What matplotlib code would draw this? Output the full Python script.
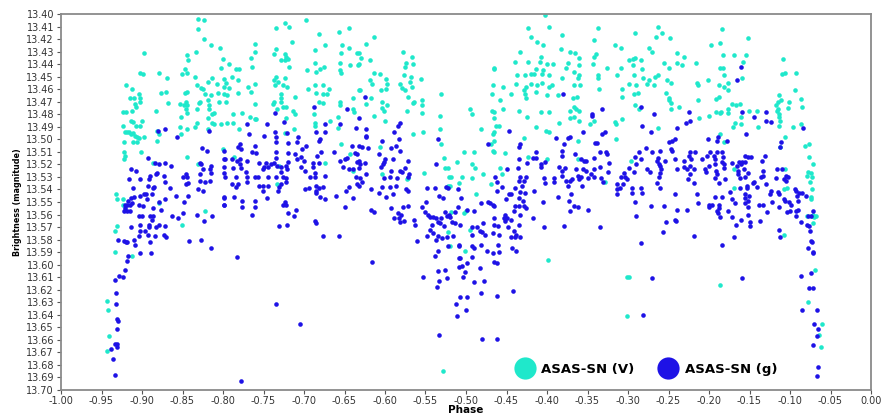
import numpy as np
import matplotlib
matplotlib.use("Agg")
import matplotlib.pyplot as plt
from matplotlib.lines import Line2D

plt.rcParams["axes.unicode_minus"] = False
plt.rcParams["font.family"] = "DejaVu Sans"

# ---- data (phase, magnitude) ----
v_points = [
    # -0.95 .. -0.80
    (-0.831,13.404),(-0.823,13.405),(-0.831,13.412),(-0.824,13.420),(-0.815,13.425),(-0.804,13.427),
    (-0.833,13.430),(-0.897,13.431),(-0.844,13.433),(-0.800,13.436),(-0.843,13.437),(-0.803,13.443),
    (-0.847,13.444),(-0.902,13.447),(-0.899,13.448),(-0.879,13.447),(-0.851,13.448),(-0.845,13.447),
    (-0.869,13.451),(-0.834,13.450),(-0.813,13.451),(-0.819,13.454),(-0.920,13.457),(-0.912,13.460),
    (-0.832,13.457),(-0.827,13.459),(-0.807,13.456),(-0.799,13.458),(-0.825,13.460),(-0.870,13.462),
    (-0.876,13.463),(-0.845,13.462),(-0.847,13.463),(-0.904,13.464),(-0.822,13.464),(-0.806,13.463),
    (-0.915,13.467),(-0.910,13.467),(-0.902,13.467),(-0.815,13.465),(-0.902,13.470),(-0.868,13.471),
    (-0.853,13.472),(-0.846,13.470),(-0.830,13.471),(-0.828,13.470),(-0.819,13.469),(-0.805,13.470),
    (-0.909,13.472),(-0.908,13.474),(-0.848,13.473),(-0.844,13.473),(-0.817,13.473),(-0.832,13.476),
    (-0.817,13.476),(-0.846,13.476),(-0.883,13.477),(-0.923,13.478),(-0.920,13.478),(-0.912,13.477),
    (-0.844,13.479),(-0.814,13.480),(-0.811,13.479),(-0.852,13.482),(-0.818,13.483),(-0.900,13.485),
    (-0.914,13.485),(-0.911,13.486),(-0.832,13.487),(-0.813,13.487),(-0.811,13.488),(-0.803,13.488),
    (-0.923,13.489),(-0.908,13.489),(-0.903,13.489),(-0.853,13.490),(-0.834,13.490),(-0.845,13.492),
    (-0.819,13.492),(-0.881,13.493),(-0.921,13.494),(-0.919,13.494),(-0.916,13.494),(-0.913,13.496),
    (-0.911,13.495),(-0.909,13.497),(-0.906,13.498),(-0.904,13.499),(-0.897,13.498),(-0.879,13.496),
    (-0.852,13.496),(-0.922,13.502),(-0.911,13.502),(-0.906,13.502),(-0.881,13.501),(-0.922,13.510),
    (-0.901,13.510),(-0.921,13.513),(-0.922,13.516),(-0.844,13.514),(-0.800,13.508),(-0.886,13.519),
    (-0.831,13.520),(-0.932,13.544),(-0.931,13.548),(-0.923,13.548),(-0.923,13.552),(-0.879,13.551),
    (-0.822,13.557),(-0.851,13.568),(-0.931,13.569),(-0.933,13.573),(-0.933,13.590),(-0.912,13.593),
    (-0.943,13.629),(-0.942,13.636),(-0.941,13.657),(-0.943,13.669),
    # -0.80 .. -0.63
    (-0.697,13.405),(-0.724,13.407),(-0.719,13.410),(-0.735,13.411),(-0.644,13.411),(-0.657,13.414),
    (-0.682,13.416),(-0.715,13.422),(-0.761,13.424),(-0.674,13.425),(-0.653,13.425),(-0.645,13.427),
    (-0.734,13.428),(-0.687,13.429),(-0.761,13.430),(-0.654,13.431),(-0.737,13.432),(-0.724,13.432),
    (-0.722,13.434),(-0.634,13.431),(-0.766,13.435),(-0.728,13.437),(-0.724,13.437),(-0.720,13.436),
    (-0.686,13.439),(-0.655,13.439),(-0.793,13.440),(-0.764,13.442),(-0.718,13.442),(-0.675,13.442),
    (-0.643,13.441),(-0.633,13.441),(-0.784,13.444),(-0.780,13.444),(-0.696,13.445),(-0.680,13.444),
    (-0.685,13.446),(-0.656,13.445),(-0.654,13.447),(-0.789,13.450),(-0.735,13.450),(-0.724,13.451),
    (-0.799,13.452),(-0.781,13.453),(-0.737,13.453),(-0.732,13.454),(-0.796,13.455),(-0.761,13.456),
    (-0.736,13.457),(-0.726,13.457),(-0.721,13.458),(-0.769,13.458),(-0.766,13.462),(-0.792,13.459),
    (-0.687,13.457),(-0.676,13.457),(-0.695,13.460),(-0.669,13.460),(-0.632,13.461),(-0.782,13.463),
    (-0.685,13.463),(-0.677,13.464),(-0.671,13.464),(-0.799,13.464),(-0.795,13.465),(-0.728,13.464),
    (-0.711,13.466),(-0.729,13.467),(-0.737,13.470),(-0.729,13.470),(-0.640,13.467),(-0.796,13.470),
    (-0.681,13.470),(-0.676,13.471),(-0.656,13.470),(-0.760,13.472),(-0.738,13.472),(-0.655,13.473),
    (-0.726,13.474),(-0.722,13.474),(-0.733,13.476),(-0.713,13.477),(-0.639,13.476),(-0.777,13.479),
    (-0.711,13.480),(-0.688,13.480),(-0.788,13.480),(-0.638,13.478),(-0.658,13.482),(-0.767,13.482),
    (-0.722,13.483),(-0.761,13.484),(-0.759,13.484),(-0.668,13.485),(-0.795,13.487),(-0.788,13.487),
    (-0.686,13.487),(-0.686,13.489),(-0.780,13.492),(-0.712,13.492),(-0.658,13.491),(-0.724,13.495),
    (-0.654,13.504),(-0.643,13.512),(-0.786,13.514),(-0.674,13.519),(-0.639,13.525),(-0.731,13.521),
    (-0.733,13.536),
    # -0.63 .. -0.47
    (-0.614,13.418),(-0.624,13.424),(-0.632,13.431),(-0.630,13.435),(-0.578,13.430),(-0.567,13.434),
    (-0.619,13.437),(-0.574,13.439),(-0.566,13.440),(-0.575,13.442),(-0.632,13.440),(-0.466,13.444),
    (-0.614,13.447),(-0.606,13.448),(-0.576,13.449),(-0.568,13.450),(-0.555,13.452),(-0.619,13.453),
    (-0.599,13.452),(-0.616,13.456),(-0.597,13.456),(-0.581,13.456),(-0.569,13.454),(-0.579,13.459),
    (-0.567,13.458),(-0.605,13.461),(-0.599,13.460),(-0.575,13.461),(-0.467,13.457),(-0.631,13.461),
    (-0.531,13.464),(-0.468,13.464),(-0.572,13.466),(-0.617,13.467),(-0.566,13.471),(-0.564,13.470),
    (-0.554,13.469),(-0.604,13.470),(-0.624,13.472),(-0.598,13.473),(-0.554,13.473),(-0.604,13.475),
    (-0.601,13.477),(-0.573,13.477),(-0.495,13.476),(-0.468,13.477),(-0.554,13.479),(-0.614,13.481),
    (-0.532,13.481),(-0.493,13.480),(-0.600,13.485),(-0.466,13.483),(-0.532,13.492),(-0.481,13.492),
    (-0.566,13.496),(-0.553,13.494),(-0.467,13.496),(-0.531,13.504),(-0.469,13.504),(-0.503,13.510),
    (-0.490,13.510),(-0.467,13.509),(-0.527,13.515),(-0.511,13.518),(-0.606,13.506),(-0.492,13.520),
    (-0.489,13.523),(-0.526,13.523),(-0.522,13.523),(-0.604,13.528),(-0.552,13.527),(-0.479,13.528),
    (-0.492,13.531),(-0.521,13.530),(-0.519,13.530),(-0.505,13.530),(-0.571,13.531),(-0.573,13.532),
    (-0.509,13.535),(-0.469,13.536),(-0.522,13.537),(-0.520,13.537),(-0.488,13.544),(-0.500,13.557),
    (-0.502,13.559),(-0.518,13.558),(-0.495,13.572),(-0.522,13.574),(-0.520,13.585),(-0.501,13.589),
    (-0.529,13.685),
    # -0.47 .. -0.30
    (-0.402,13.401),(-0.398,13.410),(-0.424,13.411),(-0.337,13.411),(-0.381,13.417),(-0.420,13.418),
    (-0.342,13.421),(-0.412,13.422),(-0.405,13.425),(-0.316,13.425),(-0.309,13.427),(-0.383,13.428),
    (-0.372,13.430),(-0.365,13.431),(-0.433,13.430),(-0.339,13.432),(-0.342,13.434),(-0.408,13.434),
    (-0.361,13.435),(-0.424,13.438),(-0.439,13.438),(-0.409,13.438),(-0.400,13.440),(-0.393,13.440),
    (-0.374,13.439),(-0.343,13.440),(-0.361,13.441),(-0.326,13.443),(-0.377,13.443),(-0.309,13.443),
    (-0.299,13.437),(-0.414,13.444),(-0.405,13.445),(-0.367,13.446),(-0.466,13.443),(-0.437,13.449),
    (-0.427,13.449),(-0.420,13.448),(-0.416,13.448),(-0.406,13.448),(-0.397,13.449),(-0.381,13.451),
    (-0.360,13.449),(-0.337,13.449),(-0.314,13.449),(-0.337,13.451),(-0.362,13.451),(-0.438,13.456),
    (-0.420,13.456),(-0.406,13.455),(-0.367,13.457),(-0.454,13.458),(-0.426,13.458),(-0.412,13.457),
    (-0.398,13.458),(-0.394,13.457),(-0.359,13.457),(-0.308,13.460),(-0.336,13.460),(-0.429,13.461),
    (-0.413,13.462),(-0.427,13.464),(-0.386,13.465),(-0.445,13.464),(-0.458,13.469),(-0.426,13.467),
    (-0.400,13.465),(-0.368,13.467),(-0.363,13.466),(-0.307,13.466),(-0.367,13.474),(-0.364,13.476),
    (-0.466,13.478),(-0.454,13.476),(-0.435,13.477),(-0.407,13.478),(-0.397,13.478),(-0.371,13.477),
    (-0.360,13.477),(-0.425,13.482),(-0.371,13.483),(-0.367,13.482),(-0.360,13.485),(-0.308,13.484),
    (-0.342,13.485),(-0.414,13.490),(-0.459,13.489),(-0.463,13.489),(-0.385,13.487),(-0.347,13.488),
    (-0.316,13.486),(-0.315,13.488),(-0.401,13.493),(-0.398,13.494),(-0.466,13.494),(-0.428,13.499),
    (-0.362,13.501),(-0.315,13.500),(-0.466,13.501),(-0.466,13.510),(-0.452,13.511),(-0.424,13.514),
    (-0.400,13.516),(-0.362,13.516),(-0.458,13.523),(-0.456,13.528),(-0.328,13.534),(-0.399,13.596),
    (-0.301,13.610),(-0.301,13.641),
    # -0.30 .. -0.13
    (-0.263,13.410),(-0.184,13.412),(-0.258,13.415),(-0.291,13.415),(-0.265,13.418),(-0.248,13.419),
    (-0.152,13.419),(-0.187,13.423),(-0.198,13.425),(-0.274,13.427),(-0.270,13.430),(-0.239,13.431),
    (-0.231,13.434),(-0.183,13.433),(-0.169,13.433),(-0.154,13.433),(-0.291,13.435),(-0.294,13.436),
    (-0.284,13.437),(-0.256,13.439),(-0.239,13.439),(-0.216,13.439),(-0.158,13.438),(-0.294,13.441),
    (-0.233,13.441),(-0.249,13.443),(-0.187,13.443),(-0.283,13.444),(-0.183,13.443),(-0.293,13.449),
    (-0.263,13.449),(-0.267,13.450),(-0.282,13.451),(-0.181,13.449),(-0.159,13.451),(-0.274,13.453),
    (-0.252,13.453),(-0.247,13.455),(-0.215,13.455),(-0.176,13.455),(-0.299,13.456),(-0.290,13.457),
    (-0.277,13.456),(-0.268,13.457),(-0.213,13.457),(-0.201,13.453),(-0.188,13.457),(-0.181,13.458),
    (-0.176,13.461),(-0.288,13.463),(-0.292,13.464),(-0.253,13.463),(-0.188,13.466),(-0.191,13.468),
    (-0.250,13.467),(-0.249,13.469),(-0.213,13.469),(-0.291,13.473),(-0.247,13.471),(-0.237,13.474),
    (-0.167,13.473),(-0.247,13.476),(-0.177,13.476),(-0.172,13.472),(-0.162,13.472),(-0.286,13.476),
    (-0.151,13.477),(-0.141,13.477),(-0.191,13.478),(-0.187,13.479),(-0.185,13.478),(-0.177,13.479),
    (-0.160,13.482),(-0.212,13.483),(-0.200,13.481),(-0.168,13.487),(-0.160,13.488),(-0.170,13.490),
    (-0.139,13.490),(-0.263,13.491),(-0.187,13.496),(-0.182,13.502),(-0.296,13.517),(-0.169,13.524),
    (-0.169,13.539),(-0.299,13.610),(-0.187,13.616),
    # -0.13 .. -0.06
    (-0.109,13.436),(-0.110,13.448),(-0.106,13.447),(-0.093,13.447),(-0.094,13.461),(-0.113,13.465),
    (-0.087,13.468),(-0.115,13.470),(-0.111,13.469),(-0.101,13.470),(-0.117,13.473),(-0.103,13.475),
    (-0.116,13.477),(-0.115,13.476),(-0.085,13.474),(-0.114,13.480),(-0.113,13.482),(-0.112,13.485),
    (-0.114,13.489),(-0.096,13.490),(-0.086,13.488),(-0.106,13.498),(-0.081,13.505),(-0.077,13.504),
    (-0.112,13.506),(-0.077,13.514),(-0.072,13.520),(-0.106,13.524),(-0.078,13.526),(-0.079,13.529),
    (-0.074,13.527),(-0.073,13.530),(-0.075,13.534),(-0.104,13.539),(-0.073,13.540),(-0.108,13.540),
    (-0.074,13.546),(-0.074,13.548),(-0.079,13.561),(-0.073,13.561),(-0.070,13.562),(-0.068,13.561),
    (-0.072,13.560),(-0.072,13.567),(-0.107,13.576),(-0.069,13.604),(-0.078,13.630),(-0.061,13.647),
    (-0.064,13.656),(-0.062,13.666),
]

g_points = [
    # -0.95 .. -0.80
    (-0.880,13.493),(-0.871,13.492),(-0.857,13.498),(-0.817,13.493),(-0.826,13.507),(-0.820,13.509),
    (-0.799,13.509),(-0.892,13.515),(-0.913,13.524),(-0.908,13.525),(-0.884,13.519),(-0.879,13.520),
    (-0.871,13.519),(-0.864,13.521),(-0.829,13.519),(-0.827,13.520),(-0.815,13.521),(-0.799,13.516),
    (-0.882,13.527),(-0.883,13.528),(-0.890,13.529),(-0.873,13.529),(-0.828,13.528),(-0.825,13.524),
    (-0.816,13.524),(-0.815,13.527),(-0.799,13.527),(-0.846,13.528),(-0.849,13.530),(-0.844,13.530),
    (-0.916,13.532),(-0.902,13.532),(-0.891,13.532),(-0.828,13.533),(-0.822,13.534),(-0.816,13.533),
    (-0.871,13.534),(-0.846,13.536),(-0.843,13.535),(-0.911,13.539),(-0.893,13.537),(-0.887,13.539),
    (-0.885,13.538),(-0.831,13.540),(-0.825,13.541),(-0.866,13.539),(-0.898,13.544),(-0.895,13.544),
    (-0.888,13.544),(-0.902,13.545),(-0.910,13.546),(-0.914,13.547),(-0.917,13.549),(-0.858,13.545),
    (-0.843,13.545),(-0.799,13.546),(-0.799,13.552),(-0.921,13.552),(-0.918,13.552),(-0.915,13.552),
    (-0.912,13.551),(-0.904,13.552),(-0.899,13.553),(-0.879,13.550),(-0.872,13.548),(-0.848,13.550),
    (-0.894,13.548),(-0.921,13.555),(-0.887,13.555),(-0.877,13.556),(-0.922,13.557),(-0.918,13.557),
    (-0.915,13.557),(-0.904,13.561),(-0.900,13.561),(-0.890,13.561),(-0.887,13.561),(-0.863,13.561),
    (-0.856,13.563),(-0.849,13.559),(-0.832,13.560),(-0.814,13.561),(-0.888,13.564),(-0.823,13.565),
    (-0.902,13.568),(-0.891,13.568),(-0.879,13.568),(-0.914,13.570),(-0.891,13.570),(-0.883,13.570),
    (-0.871,13.569),(-0.902,13.573),(-0.896,13.573),(-0.893,13.576),(-0.904,13.577),(-0.884,13.577),
    (-0.873,13.576),(-0.870,13.578),(-0.910,13.580),(-0.930,13.580),(-0.922,13.581),(-0.920,13.582),
    (-0.918,13.582),(-0.890,13.582),(-0.842,13.581),(-0.827,13.580),(-0.909,13.584),(-0.815,13.587),
    (-0.902,13.591),(-0.889,13.591),(-0.917,13.593),(-0.919,13.597),(-0.921,13.604),(-0.929,13.609),
    (-0.923,13.610),(-0.933,13.612),(-0.932,13.623),(-0.932,13.631),(-0.931,13.643),(-0.930,13.645),
    (-0.931,13.651),(-0.933,13.663),(-0.931,13.663),(-0.938,13.667),(-0.931,13.666),(-0.936,13.675),
    (-0.933,13.688),
    # -0.80 .. -0.63
    (-0.688,13.474),(-0.647,13.476),(-0.736,13.479),(-0.725,13.486),(-0.770,13.488),(-0.746,13.488),
    (-0.674,13.488),(-0.655,13.488),(-0.636,13.491),(-0.736,13.494),(-0.721,13.495),(-0.685,13.494),
    (-0.674,13.494),(-0.768,13.496),(-0.750,13.497),(-0.735,13.498),(-0.708,13.498),(-0.680,13.500),
    (-0.682,13.501),(-0.734,13.502),(-0.720,13.503),(-0.709,13.502),(-0.698,13.505),(-0.779,13.504),
    (-0.782,13.506),(-0.778,13.508),(-0.760,13.505),(-0.641,13.505),(-0.703,13.508),(-0.764,13.510),
    (-0.759,13.511),(-0.734,13.510),(-0.720,13.511),(-0.711,13.512),(-0.679,13.510),(-0.663,13.510),
    (-0.684,13.513),(-0.637,13.511),(-0.634,13.512),(-0.797,13.516),(-0.789,13.516),(-0.783,13.517),
    (-0.779,13.516),(-0.770,13.517),(-0.756,13.519),(-0.747,13.519),(-0.737,13.519),(-0.734,13.515),
    (-0.720,13.518),(-0.709,13.516),(-0.704,13.514),(-0.700,13.517),(-0.689,13.519),(-0.682,13.519),
    (-0.656,13.517),(-0.650,13.516),(-0.647,13.515),(-0.634,13.518),(-0.799,13.522),(-0.788,13.523),
    (-0.779,13.520),(-0.778,13.523),(-0.749,13.522),(-0.741,13.520),(-0.733,13.521),(-0.729,13.522),
    (-0.722,13.521),(-0.704,13.522),(-0.689,13.522),(-0.652,13.522),(-0.644,13.524),(-0.640,13.524),
    (-0.751,13.524),(-0.745,13.522),(-0.771,13.526),(-0.728,13.526),(-0.721,13.524),(-0.699,13.525),
    (-0.686,13.527),(-0.798,13.530),(-0.784,13.530),(-0.770,13.530),(-0.761,13.530),(-0.757,13.530),
    (-0.745,13.530),(-0.734,13.530),(-0.726,13.530),(-0.722,13.531),(-0.693,13.530),(-0.687,13.530),
    (-0.674,13.529),(-0.636,13.530),(-0.722,13.534),(-0.729,13.536),(-0.789,13.536),(-0.782,13.536),
    (-0.770,13.534),(-0.755,13.537),(-0.751,13.537),(-0.745,13.537),(-0.685,13.537),(-0.676,13.538),
    (-0.635,13.536),(-0.731,13.538),(-0.784,13.538),(-0.682,13.539),(-0.645,13.538),(-0.751,13.541),
    (-0.732,13.541),(-0.699,13.540),(-0.694,13.539),(-0.685,13.541),(-0.648,13.541),(-0.685,13.543),
    (-0.799,13.547),(-0.786,13.546),(-0.746,13.547),(-0.680,13.546),(-0.661,13.545),(-0.639,13.547),
    (-0.760,13.549),(-0.674,13.548),(-0.799,13.552),(-0.776,13.549),(-0.776,13.554),(-0.760,13.554),
    (-0.724,13.550),(-0.726,13.552),(-0.722,13.552),(-0.649,13.554),(-0.764,13.560),(-0.720,13.559),
    (-0.710,13.556),(-0.712,13.561),(-0.687,13.565),(-0.685,13.567),(-0.731,13.569),(-0.721,13.568),
    (-0.676,13.577),(-0.657,13.577),(-0.783,13.594),(-0.734,13.631),(-0.705,13.647),(-0.778,13.693),
    # -0.63 .. -0.47
    (-0.625,13.466),(-0.632,13.483),(-0.582,13.487),(-0.584,13.489),(-0.623,13.492),(-0.624,13.497),
    (-0.589,13.494),(-0.624,13.498),(-0.535,13.500),(-0.604,13.501),(-0.583,13.500),(-0.473,13.504),
    (-0.586,13.505),(-0.632,13.505),(-0.628,13.506),(-0.621,13.507),(-0.592,13.507),(-0.581,13.509),
    (-0.607,13.512),(-0.600,13.516),(-0.601,13.518),(-0.590,13.516),(-0.571,13.517),(-0.632,13.517),
    (-0.631,13.520),(-0.625,13.519),(-0.603,13.520),(-0.537,13.520),(-0.605,13.522),(-0.632,13.523),
    (-0.575,13.523),(-0.592,13.525),(-0.581,13.525),(-0.579,13.526),(-0.623,13.528),(-0.570,13.528),
    (-0.601,13.531),(-0.594,13.530),(-0.585,13.531),(-0.631,13.531),(-0.572,13.530),(-0.629,13.534),
    (-0.632,13.537),(-0.604,13.538),(-0.594,13.538),(-0.587,13.537),(-0.617,13.540),(-0.574,13.540),
    (-0.572,13.541),(-0.548,13.539),(-0.538,13.539),(-0.525,13.538),(-0.522,13.539),(-0.510,13.540),
    (-0.608,13.543),(-0.599,13.546),(-0.590,13.544),(-0.533,13.545),(-0.529,13.547),(-0.506,13.547),
    (-0.549,13.550),(-0.481,13.551),(-0.473,13.550),(-0.470,13.551),(-0.467,13.552),(-0.593,13.555),
    (-0.578,13.554),(-0.572,13.553),(-0.554,13.554),(-0.617,13.556),(-0.614,13.558),(-0.550,13.558),
    (-0.526,13.558),(-0.521,13.560),(-0.513,13.558),(-0.510,13.554),(-0.490,13.557),(-0.499,13.556),
    (-0.584,13.559),(-0.580,13.560),(-0.547,13.560),(-0.545,13.562),(-0.541,13.562),(-0.537,13.563),
    (-0.531,13.563),(-0.524,13.561),(-0.520,13.562),(-0.589,13.563),(-0.583,13.563),(-0.576,13.565),
    (-0.564,13.564),(-0.581,13.566),(-0.563,13.568),(-0.542,13.568),(-0.535,13.566),(-0.532,13.567),
    (-0.527,13.569),(-0.517,13.566),(-0.513,13.567),(-0.508,13.568),(-0.479,13.567),(-0.492,13.570),
    (-0.486,13.570),(-0.483,13.573),(-0.480,13.574),(-0.476,13.576),(-0.467,13.575),(-0.545,13.572),
    (-0.541,13.575),(-0.534,13.577),(-0.516,13.577),(-0.548,13.577),(-0.493,13.576),(-0.537,13.580),
    (-0.524,13.578),(-0.530,13.579),(-0.561,13.581),(-0.509,13.584),(-0.509,13.585),(-0.522,13.585),
    (-0.492,13.585),(-0.490,13.587),(-0.481,13.584),(-0.474,13.589),(-0.467,13.591),(-0.534,13.589),
    (-0.538,13.593),(-0.509,13.595),(-0.507,13.595),(-0.493,13.594),(-0.499,13.599),(-0.616,13.598),
    (-0.534,13.605),(-0.526,13.604),(-0.509,13.602),(-0.505,13.601),(-0.501,13.606),(-0.483,13.603),
    (-0.533,13.613),(-0.553,13.610),(-0.504,13.610),(-0.523,13.611),(-0.490,13.614),(-0.478,13.613),
    (-0.536,13.618),(-0.482,13.623),(-0.508,13.626),(-0.499,13.626),(-0.512,13.631),(-0.500,13.636),
    (-0.511,13.641),(-0.533,13.656),(-0.480,13.659),
    # -0.47 .. -0.30
    (-0.380,13.464),(-0.332,13.476),(-0.344,13.480),(-0.344,13.481),(-0.447,13.493),(-0.329,13.494),
    (-0.355,13.494),(-0.389,13.499),(-0.372,13.498),(-0.374,13.499),(-0.332,13.496),(-0.379,13.504),
    (-0.341,13.503),(-0.338,13.503),(-0.433,13.504),(-0.434,13.506),(-0.414,13.510),(-0.381,13.509),
    (-0.335,13.510),(-0.327,13.510),(-0.326,13.512),(-0.381,13.513),(-0.365,13.512),(-0.417,13.515),
    (-0.413,13.515),(-0.403,13.518),(-0.342,13.515),(-0.358,13.516),(-0.354,13.517),(-0.352,13.517),
    (-0.323,13.519),(-0.435,13.516),(-0.425,13.519),(-0.407,13.520),(-0.408,13.522),(-0.450,13.524),
    (-0.436,13.523),(-0.385,13.522),(-0.381,13.525),(-0.378,13.523),(-0.364,13.524),(-0.355,13.524),
    (-0.352,13.525),(-0.346,13.528),(-0.342,13.524),(-0.335,13.522),(-0.325,13.526),(-0.305,13.527),
    (-0.304,13.530),(-0.464,13.530),(-0.433,13.530),(-0.426,13.530),(-0.404,13.531),(-0.391,13.531),
    (-0.381,13.529),(-0.369,13.532),(-0.362,13.529),(-0.358,13.530),(-0.350,13.531),(-0.342,13.530),
    (-0.333,13.531),(-0.309,13.530),(-0.301,13.532),(-0.462,13.534),(-0.434,13.533),(-0.428,13.533),
    (-0.403,13.535),(-0.391,13.534),(-0.376,13.533),(-0.371,13.533),(-0.361,13.532),(-0.357,13.537),
    (-0.331,13.534),(-0.313,13.536),(-0.306,13.536),(-0.456,13.538),(-0.439,13.539),(-0.431,13.537),
    (-0.374,13.537),(-0.313,13.540),(-0.462,13.541),(-0.433,13.542),(-0.427,13.543),(-0.416,13.541),
    (-0.310,13.539),(-0.447,13.544),(-0.444,13.544),(-0.370,13.544),(-0.314,13.544),(-0.451,13.548),
    (-0.434,13.547),(-0.386,13.546),(-0.430,13.549),(-0.405,13.550),(-0.373,13.549),(-0.466,13.553),
    (-0.440,13.553),(-0.434,13.553),(-0.429,13.553),(-0.426,13.555),(-0.367,13.553),(-0.362,13.554),
    (-0.349,13.556),(-0.441,13.557),(-0.371,13.557),(-0.452,13.560),(-0.433,13.560),(-0.466,13.563),
    (-0.453,13.563),(-0.449,13.563),(-0.444,13.564),(-0.417,13.563),(-0.465,13.568),(-0.452,13.565),
    (-0.435,13.568),(-0.460,13.569),(-0.448,13.570),(-0.404,13.570),(-0.379,13.569),(-0.334,13.570),
    (-0.441,13.573),(-0.438,13.576),(-0.459,13.576),(-0.445,13.578),(-0.440,13.578),(-0.433,13.578),
    (-0.460,13.584),(-0.443,13.587),(-0.438,13.589),(-0.459,13.590),(-0.466,13.598),(-0.462,13.599),
    (-0.442,13.621),(-0.462,13.625),(-0.462,13.659),
    # -0.30 .. -0.13
    (-0.161,13.442),(-0.166,13.453),(-0.284,13.474),(-0.225,13.478),(-0.159,13.478),(-0.268,13.480),
    (-0.144,13.482),(-0.224,13.485),(-0.228,13.487),(-0.283,13.489),(-0.239,13.491),(-0.272,13.494),
    (-0.154,13.496),(-0.189,13.498),(-0.242,13.500),(-0.201,13.500),(-0.250,13.502),(-0.246,13.501),
    (-0.178,13.501),(-0.190,13.501),(-0.278,13.507),(-0.247,13.508),(-0.246,13.509),(-0.270,13.510),
    (-0.260,13.509),(-0.223,13.510),(-0.217,13.510),(-0.199,13.510),(-0.190,13.510),(-0.184,13.510),
    (-0.286,13.510),(-0.225,13.513),(-0.202,13.513),(-0.194,13.513),(-0.183,13.514),(-0.155,13.513),
    (-0.152,13.514),(-0.148,13.514),(-0.291,13.514),(-0.263,13.515),(-0.284,13.516),(-0.264,13.517),
    (-0.254,13.517),(-0.242,13.516),(-0.231,13.517),(-0.222,13.516),(-0.209,13.516),(-0.192,13.516),
    (-0.184,13.518),(-0.171,13.519),(-0.163,13.518),(-0.159,13.518),(-0.155,13.518),(-0.134,13.517),
    (-0.290,13.520),(-0.262,13.520),(-0.260,13.521),(-0.224,13.521),(-0.200,13.521),(-0.192,13.520),
    (-0.181,13.520),(-0.165,13.521),(-0.160,13.520),(-0.299,13.523),(-0.277,13.524),(-0.259,13.524),
    (-0.240,13.524),(-0.231,13.522),(-0.227,13.524),(-0.218,13.524),(-0.205,13.524),(-0.191,13.525),
    (-0.181,13.523),(-0.164,13.525),(-0.157,13.524),(-0.293,13.526),(-0.273,13.526),(-0.260,13.527),
    (-0.224,13.528),(-0.204,13.526),(-0.190,13.528),(-0.164,13.528),(-0.152,13.527),(-0.262,13.530),
    (-0.226,13.532),(-0.192,13.531),(-0.180,13.532),(-0.162,13.531),(-0.156,13.530),(-0.144,13.534),
    (-0.136,13.530),(-0.264,13.535),(-0.218,13.535),(-0.188,13.535),(-0.153,13.537),(-0.146,13.535),
    (-0.295,13.539),(-0.284,13.539),(-0.261,13.539),(-0.153,13.539),(-0.162,13.539),(-0.141,13.538),
    (-0.295,13.543),(-0.283,13.543),(-0.242,13.544),(-0.215,13.544),(-0.155,13.544),(-0.174,13.542),
    (-0.192,13.546),(-0.184,13.546),(-0.172,13.548),(-0.156,13.547),(-0.151,13.545),(-0.291,13.550),
    (-0.214,13.551),(-0.155,13.551),(-0.152,13.549),(-0.272,13.553),(-0.255,13.553),(-0.200,13.552),
    (-0.196,13.552),(-0.188,13.552),(-0.168,13.551),(-0.138,13.552),(-0.152,13.554),(-0.239,13.556),
    (-0.227,13.556),(-0.200,13.554),(-0.188,13.555),(-0.190,13.557),(-0.176,13.557),(-0.189,13.559),
    (-0.187,13.562),(-0.290,13.561),(-0.171,13.562),(-0.152,13.560),(-0.161,13.564),(-0.242,13.564),
    (-0.241,13.565),(-0.253,13.566),(-0.167,13.568),(-0.150,13.566),(-0.150,13.569),(-0.137,13.565),
    (-0.257,13.574),(-0.218,13.577),(-0.169,13.578),(-0.284,13.583),(-0.184,13.584),(-0.270,13.611),
    (-0.159,13.611),(-0.282,13.640),
    # -0.13 .. -0.06
    (-0.130,13.478),(-0.130,13.485),(-0.124,13.486),(-0.084,13.491),(-0.111,13.502),(-0.112,13.506),
    (-0.131,13.513),(-0.133,13.525),(-0.116,13.524),(-0.110,13.524),(-0.105,13.529),(-0.102,13.530),
    (-0.133,13.529),(-0.117,13.531),(-0.107,13.532),(-0.105,13.533),(-0.130,13.536),(-0.094,13.540),
    (-0.092,13.541),(-0.089,13.543),(-0.085,13.543),(-0.080,13.545),(-0.124,13.541),(-0.115,13.542),
    (-0.113,13.544),(-0.125,13.544),(-0.091,13.545),(-0.108,13.548),(-0.106,13.549),(-0.101,13.550),
    (-0.090,13.549),(-0.122,13.550),(-0.099,13.552),(-0.133,13.552),(-0.090,13.556),(-0.072,13.557),
    (-0.129,13.558),(-0.113,13.554),(-0.100,13.557),(-0.104,13.558),(-0.092,13.557),(-0.093,13.561),
    (-0.078,13.561),(-0.074,13.561),(-0.087,13.566),(-0.079,13.568),(-0.077,13.569),(-0.114,13.572),
    (-0.075,13.573),(-0.074,13.581),(-0.073,13.582),(-0.112,13.578),(-0.078,13.587),(-0.072,13.590),
    (-0.072,13.591),(-0.086,13.609),(-0.074,13.607),(-0.077,13.619),(-0.071,13.619),(-0.085,13.636),
    (-0.067,13.636),(-0.070,13.647),(-0.066,13.651),(-0.067,13.657),(-0.071,13.664),(-0.066,13.682),
    (-0.067,13.689),
]

series_labels = ["ASAS-SN (V)", "ASAS-SN (g)"]
series_colors = ["#1FE8CB", "#1E12E6"]
x_ticks = np.round(np.arange(-1.0, 0.001, 0.05), 2)
y_ticks = np.round(np.arange(13.40, 13.7001, 0.01), 2)

v = np.array(v_points)
g = np.array(g_points)

fig = plt.figure(figsize=(8.81, 4.16), dpi=100)
ax = fig.add_axes([61 / 881, 1 - 390 / 416, 810 / 881, 376 / 416])

ax.plot(v[:, 0], v[:, 1], "o", ms=3.3, mew=0, color=series_colors[0])
ax.plot(g[:, 0], g[:, 1], "o", ms=3.3, mew=0, color=series_colors[1])

ax.set_xlim(-1.0, 0.0)
ax.set_ylim(13.70, 13.40)
ax.set_xticks(x_ticks)
ax.set_xticklabels([f"{t:.2f}" for t in x_ticks])
ax.set_yticks(y_ticks)
ax.set_yticklabels([f"{t:.2f}" for t in y_ticks])
ax.tick_params(axis="both", labelsize=7, colors="#555555", labelcolor="#333333",
               length=3, width=0.8, pad=2)
ax.tick_params(axis="x", pad=1.5)

for sp in ax.spines.values():
    sp.set_color("#8a8a8a")
    sp.set_linewidth(1.3)

ax.set_xlabel("Phase", fontsize=7.5, fontweight="bold", va="center")
ax.xaxis.set_label_coords(0.5, -0.052)
ax.set_ylabel("Brightness (magnitude)", fontsize=5.8, fontweight="bold", va="center")
ax.yaxis.set_label_coords(-0.054, 0.5)

handles = [Line2D([], [], ls="none", marker="o", ms=16, mew=0, color=c)
           for c in series_colors]
ax.legend(handles, series_labels, loc="center left",
          bbox_to_anchor=(515 / 881, 1 - 369 / 416), bbox_transform=fig.transFigure,
          ncol=2, frameon=False, borderpad=0, borderaxespad=0,
          handlelength=1.5, handletextpad=0.5, columnspacing=1.8,
          prop={"size": 9.5, "weight": "bold"})

fig.savefig("out.png", dpi=100)
